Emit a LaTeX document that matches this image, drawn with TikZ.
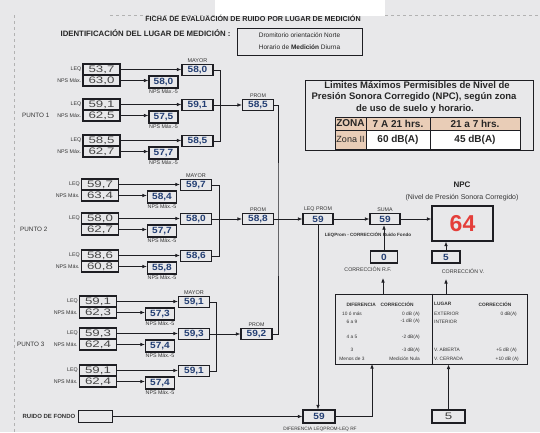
\documentclass[tikz,border=0pt]{standalone}
\usepackage{fontspec}
\setmainfont{Liberation Sans}
\newfontfamily\infont{Liberation Sans}[FakeStretch=1.4]
\newfontfamily\outfont{Liberation Sans}[FakeStretch=1.12]
\usetikzlibrary{arrows.meta}
\definecolor{bg}{RGB}{232,232,234}
\definecolor{navy}{RGB}{35,62,115}
\definecolor{tanc}{RGB}{233,205,183}
\definecolor{redn}{RGB}{228,62,58}
\definecolor{ink}{RGB}{30,30,35}
\newcommand\myfs[1]{\fontsize{#1}{#1}\selectfont}
\tikzset{
 bx/.style={draw=ink, line width=1.2pt, inner sep=0pt, minimum height=11pt},
 inbox/.style={bx, minimum width=37pt, text=black!72, font=\infont\myfs{9.5}},
 outbox/.style={bx, minimum width=31pt, text=navy, font=\outfont\myfs{9}\bfseries},
 outboxf/.style={bx, minimum width=29pt, minimum height=12pt, text=navy, font=\outfont\myfs{9}\bfseries},
 tl/.style={inner sep=1pt, font=\myfs{5.3}, text=black!80},
 ln/.style={line width=0.7pt, draw=ink},
 arr/.style={ln, -{Latex[length=4.5pt,width=3.6pt]}},
 tt/.style={inner sep=0pt, font=\myfs{4.8}, text=black!80},
 cell/.style={draw=ink, line width=0.8pt, inner sep=0pt, font=\myfs{10}\bfseries, text=black!85},
}
% one measurement row: id, dx, top, leq, nps, result, nps-5, nps label
\newcommand\mrow[8]{%
 \node[inbox] (#1L) at ({101.5+(#2)},{#3+5.5}) {#4};
 \node[inbox] (#1N) at ({101.5+(#2)},{#3+16.5}) {#5};
 \node[outbox] (#1R) at ({197.5+(#2)},{#3+6}) {#6};
 \node[outboxf] (#1F) at ({163.5+(#2)},{#3+18}) {#7};
 \node[tl, anchor=east] (#1l) at (#1L.west) {LEQ};
 \node[tl, anchor=east] (#1n) at (#1N.west) {#8};
 \node[tl, anchor=north, inner sep=0.5pt] (#1f) at (#1F.south) {NPS Máx.-5};
 \draw[arr] (#1L.east) -- (#1L.east -| #1R.west);
 \draw[arr] (#1N.east) -- (#1N.east -| #1F.west);
}
\begin{document}
\begin{tikzpicture}[x=1pt,y=-1pt]
\useasboundingbox (0,0) rectangle (540,432);
\fill[bg] (0,0) rectangle (540,432);
\fill[white] (215,0) rectangle (385,16);
\draw[gray!60, dashed, line width=0.4pt] (110,15) -- (215,15) (385,15) -- (540,15);
\draw[gray!60, dashed, line width=0.4pt] (14,15) -- (14,432);

% header
\node[font=\myfs{7.2}\bfseries, text=black!85] (title) at (253,18) {FICHA DE EVALUACIÓN DE RUIDO POR LUGAR DE MEDICIÓN};
\node[font=\myfs{7.8}\bfseries, anchor=east, text=black!85] (idl) at (234,33) {IDENTIFICACIÓN DEL LUGAR DE MEDICIÓN :};
\node[draw=ink, line width=1pt, minimum width=125pt, minimum height=27pt, inner sep=0pt, align=center, font=\myfs{6.5}, text=black!85] (idb) at (299.5,41.5) {Dromitorio orientación Norte\\[5.5pt]Horario de \textbf{Medición} Diurna};

% measurement rows
\mrow{Pa}{0}{64}{53,7}{63,0}{58,0}{58,0}{NPS Máx.}
\mrow{Pb}{0}{99}{59,1}{62,5}{59,1}{57,5}{NPS Máx.}
\mrow{Pc}{0}{135}{58,5}{62,7}{58,5}{57,7}{NPS Máx.}
\mrow{Qa}{-1.5}{179}{59,7}{63,4}{59,7}{58,4}{NPS Máx.}
\mrow{Qb}{-1.5}{213}{58,0}{62,7}{58,0}{57,7}{}
\mrow{Qc}{-1.5}{250}{58,6}{60,8}{58,6}{55,8}{NPS Máx.}
\mrow{Ra}{-3.5}{296}{59,1}{62,3}{59,1}{57,3}{NPS Máx.}
\mrow{Rb}{-3.5}{328}{59,3}{62,4}{59,3}{57,4}{NPS Máx.}
\mrow{Rc}{-3.5}{365}{59,1}{62,4}{59,1}{57,4}{NPS Máx.}

\node[tl, font=\myfs{6.3}, anchor=west] (pu1) at (21,115.5) {PUNTO 1};
\node[tl, font=\myfs{6.3}, anchor=west] (pu2) at (19,229.5) {PUNTO 2};
\node[tl, font=\myfs{6.3}, anchor=west] (pu3) at (16,344.5) {PUNTO 3};

\node[tl, font=\myfs{5.5}, anchor=south] (may1) at (PaR.north) {MAYOR};
\node[tl, font=\myfs{5.5}, anchor=south] (may2) at (QaR.north) {MAYOR};
\node[tl, font=\myfs{5.5}, anchor=south] (may3) at (RaR.north) {MAYOR};

% PROM boxes
\node[outbox] (pr1) at (258,105) {58,5};
\node[outbox] (pr2) at (258,219) {58,8};
\node[outbox] (pr3) at (256.5,334) {59,2};
\node[tl, anchor=south] (prl1) at (pr1.north) {PROM};
\node[tl, anchor=south] (prl2) at (pr2.north) {PROM};
\node[tl, anchor=south] (prl3) at (pr3.north) {PROM};

\draw[ln] (PaR.east) -- ++(7,0) |- (PcR.east);
\draw[ln] (QaR.east) -- ++(7,0) |- (QcR.east);
\draw[ln] (RaR.east) -- ++(6,0) |- (RcR.east);
\draw[arr] (PbR.east) -- (PbR.east -| pr1.west);
\draw[arr] (QbR.east) -- (QbR.east -| pr2.west);
\draw[arr] (RbR.east) -- (RbR.east -| pr3.west);

% LEQ PROM, SUMA, NPC
\node[outbox, minimum width=30pt] (lp) at (318,219) {59};
\node[tl, anchor=south] (lpl) at (lp.north) {LEQ PROM};
\node[outbox, minimum width=30pt] (sm) at (385,219) {59};
\node[tl, anchor=south] (sml) at (sm.north) {SUMA};
\coordinate (jv) at (278,219);
\draw[ln] (pr1.east) -| (jv) |- (pr3.east);
\draw[arr] (pr2) -- (lp);
\draw[arr] (lp) -- (sm);
\node[draw=ink, line width=1.3pt, minimum width=61pt, minimum height=35pt, inner sep=0pt, text=redn, font=\myfs{23}\bfseries] (npc) at (462.5,223.5) {64};
\draw[arr] (sm.east) -- (sm.east -| npc.west);
\node[font=\myfs{8}\bfseries, text=black!85] (npcl) at (462,185) {NPC};
\node[font=\myfs{7}, text=black!80] (npcs) at (462,198) {(Nivel de Presión Sonora Corregido)};
\node[tl, font=\myfs{4.6}\bfseries, anchor=north, inner sep=0pt] (smf) at (368,232) {LEQProm - CORRECCIÓN Ruido Fondo};

\node[outbox, minimum width=27pt, minimum height=12pt] (rf) at (384,257) {0};
\node[tl, anchor=north] (rfl) at (368,265.5) {CORRECCIÓN R.F.};
\node[outbox, minimum width=28pt, minimum height=12pt] (cv) at (446,257) {5};
\node[tl, anchor=north] (cvl) at (463,267.5) {CORRECCIÓN V.};
\draw[arr] (rf.north) -- (rf.north |- sm.south);
\draw[arr] (cv.north) -- (cv.north |- npc.south);

% correction table
\node[draw=ink, line width=1pt, minimum width=192pt, minimum height=70pt, inner sep=0pt] (tb) at (431,329) {};
\coordinate (dv) at (432,329);
\draw[ln, line width=1pt] (tb.north -| dv) -- (tb.south -| dv);
\coordinate (rfA) at (383,278);
\coordinate (cvA) at (446,279);
\draw[arr] (tb.north -| rfA) -- (rfA);
\draw[arr] (tb.north -| cvA) -- (cvA);

\node[tt, font=\myfs{4.8}\bfseries] (th1) at (380,304) {DIFERENCIA\quad CORRECCIÓN};
\node[tt] (d1) at (352,314) {10 ó más};
\node[tt] (d2) at (352,321.5) {6 a 9};
\node[tt] (d3) at (352,337) {4 a 5};
\node[tt] (d4) at (352,350) {3};
\node[tt] (d5) at (352,359) {Menos de 3};
\node[tt, anchor=east] (e1) at (420,314) {0 dB (A)};
\node[tt, anchor=east] (e2) at (420,321.5) {-1 dB (A)};
\node[tt, anchor=east] (e3) at (420,337) {-2 dB(A)};
\node[tt, anchor=east] (e4) at (420,350) {-3 dB(A)};
\node[tt, anchor=east] (e5) at (420,359) {Medición Nula};
\node[tt, font=\myfs{4.8}\bfseries, anchor=west] (th2) at (434,304) {LUGAR};
\node[tt, font=\myfs{4.8}\bfseries] (th3) at (495,304) {CORRECCIÓN};
\node[tt, anchor=west] (g1) at (434,314) {EXTERIOR};
\node[tt, anchor=west] (g2) at (434,322) {INTERIOR};
\node[tt, anchor=west] (g3) at (434,350) {V. ABIERTA};
\node[tt, anchor=west] (g4) at (434,359) {V. CERRADA};
\node[tt, anchor=east] (h1) at (517,314) {0 dB(A)};
\node[tt, anchor=east] (h3) at (517,350) {+5 dB (A)};
\node[tt, anchor=east] (h4) at (519,359) {+10 dB (A)};

% bottom row
\node[bx, minimum width=34pt, minimum height=12pt, line width=1pt] (rb) at (95,416.5) {};
\node[tl, font=\myfs{6}\bfseries, anchor=east] (rbl) at ([xshift=-1pt]rb.west) {RUIDO DE FONDO};
\node[outbox, minimum width=32pt, minimum height=13pt] (b59) at (319,416.5) {59};
\node[bx, minimum width=33pt, minimum height=13pt, font=\infont\myfs{9.5}, text=black!75] (b5) at (448.5,416.5) {5};
\draw[arr] (rb) -- (b59);
\draw[arr] (lp.south) -- (lp.south |- b59.north);
\coordinate (tA) at (372,364);
\draw[arr] (b59.east) -| (tA);
\draw[arr] (b5.north) -- (b5.north |- tb.south);
\node[tl, font=\myfs{4.8}] (dif) at (320,429) {DIFERENCIA LEQPROM-LEQ RF};

% limits table
\node[draw=ink, line width=1pt, minimum width=228pt, minimum height=70pt, inner sep=0pt] (lim) at (419,115) {};
\node[font=\myfs{9.5}\bfseries, text=black!85, inner sep=0pt] (lt1) at (417,85) {Limites Máximos Permisibles de Nivel de};
\node[font=\myfs{9.5}\bfseries, text=black!85, inner sep=0pt] (lt2) at (414,97) {Presión Sonora Corregido (NPC), según zona};
\node[font=\myfs{9.5}\bfseries, text=black!85, inner sep=0pt] (lt3) at (415,109) {de uso de suelo y horario.};
\node[cell, fill=tanc, minimum width=31pt, minimum height=13pt] (z1) at (350.5,123.5) {ZONA};
\node[cell, fill=tanc, minimum width=64pt, minimum height=13pt] (z2) at (398,123.5) {7 A 21 hrs.};
\node[cell, fill=tanc, minimum width=90pt, minimum height=13pt] (z3) at (475,123.5) {21 a 7 hrs.};
\node[cell, fill=tanc, minimum width=31pt, minimum height=19pt, font=\myfs{9}] (z4) at (350.5,139.5) {Zona II};
\node[cell, fill=white, minimum width=64pt, minimum height=19pt] (z5) at (398,139.5) {60 dB(A)};
\node[cell, fill=white, minimum width=90pt, minimum height=19pt] (z6) at (475,139.5) {45 dB(A)};
\end{tikzpicture}
\end{document}
